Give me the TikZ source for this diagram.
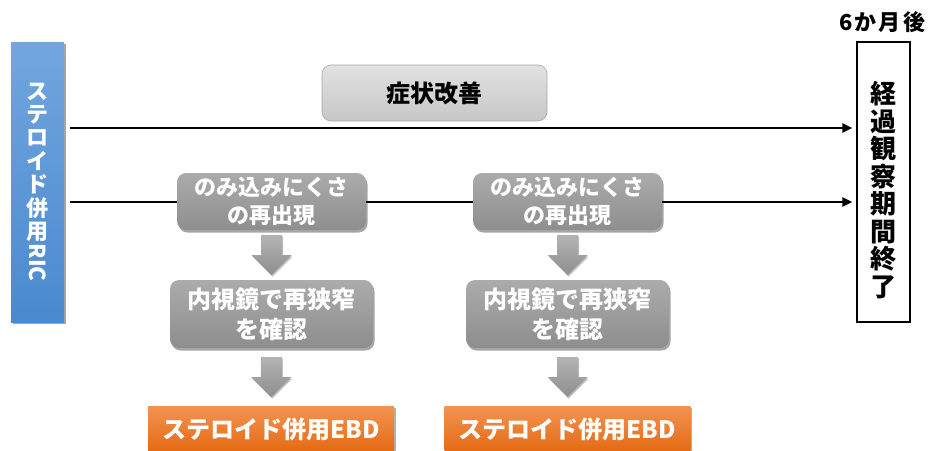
\documentclass[tikz,border=0pt]{standalone}
\usepackage{fontspec}
\setmainfont{Noto Sans CJK JP}
\usetikzlibrary{shadows,arrows.meta,calc}
\definecolor{blueT}{HTML}{72A6DE}
\definecolor{blueB}{HTML}{4A89CF}
\definecolor{grayT}{HTML}{ABABAB}
\definecolor{grayB}{HTML}{8E8E8E}
\definecolor{lgT}{HTML}{E2E2E2}
\definecolor{lgB}{HTML}{C6C6C6}
\definecolor{orT}{HTML}{F39353}
\definecolor{orB}{HTML}{E46A12}
\tikzset{
  sidebox/.style={minimum width=53pt, minimum height=280pt, inner sep=0pt, align=center},
  graybox/.style={rounded corners=9pt, top color=grayT, bottom color=grayB, draw=none,
     text=white, font=\bfseries\fontsize{22}{28}\selectfont, align=center, inner sep=0pt,
     drop shadow={shadow xshift=1.5pt, shadow yshift=-2.5pt, opacity=0.35, fill=black}},
  orbox/.style={top color=orT, bottom color=orB, draw=none, text=white,
     font=\bfseries\fontsize{24}{28}\selectfont, inner sep=0pt,
     drop shadow={shadow xshift=1.5pt, shadow yshift=-2pt, opacity=0.3, fill=black}},
  flow/.style={line width=2.4pt, black},
  flowarrow/.style={flow, -{Triangle[length=10pt,width=9pt]}, shorten >=4pt},
  blockarrow/.style={top color=grayT!90, bottom color=grayB, draw=none,
     drop shadow={shadow xshift=1pt, shadow yshift=-1.5pt, opacity=0.25, fill=black}}
}
\newcommand{\downarrowat}[1]{%
  \path[blockarrow] ($(#1)+(-10.5,-20)$) -- ($(#1)+(10.5,-20)$) -- ($(#1)+(10.5,0)$)
    -- ($(#1)+(20,0)$) -- ($(#1)+(0,20)$) -- ($(#1)+(-20,0)$) -- ($(#1)+(-10.5,0)$) -- cycle;}
\begin{document}
\begin{tikzpicture}[x=1pt,y=-1pt]
\useasboundingbox (0,0) rectangle (933,450);
% left box
\node[sidebox, top color=blueT, bottom color=blueB, text=white,
  font=\bfseries\fontsize{22}{23.4}\selectfont,
  drop shadow={shadow xshift=1.5pt, shadow yshift=-2pt, opacity=0.35, fill=black}]
  (L) at (37.5,182) {ス\\テ\\ロ\\イ\\ド\\併\\用\\[1pt]\rotatebox[origin=c]{-90}{RIC}};
% right box
\node[sidebox, draw=black, line width=1.2pt, fill=white] (R) at (883.5,182) {};
\node[align=center, inner sep=0pt, font=\bfseries\fontsize{26}{27.5}\selectfont]
  (Rt) at (883.5,190) {経\\過\\観\\察\\期\\間\\終\\了};
\node[font=\bfseries\fontsize{22}{24}\selectfont\addfontfeature{LetterSpace=10}, anchor=base, inner sep=0pt] (T) at (882,30) {6か月後};
% improvement box
\node[rounded corners=9pt, top color=lgT, bottom color=lgB, draw=gray!70, line width=0.6pt,
  minimum width=225pt, minimum height=56pt, inner sep=0pt,
  font=\bfseries\fontsize{24}{26}\selectfont] (S) at (434.5,93) {症状改善};
% column boxes
\node[graybox, minimum width=189pt, minimum height=57pt] (A1) at (271.5,201.5) {のみ込みにくさ\\の再出現};
\node[graybox, minimum width=203pt, minimum height=68pt, font=\bfseries\fontsize{24}{30}\selectfont] (B1) at (271.5,314) {内視鏡で再狭窄\\を確認};
\node[orbox, minimum width=246pt, minimum height=46pt] (C1) at (271,429) {ステロイド併用EBD};
\node[graybox, minimum width=189pt, minimum height=57pt] (A2) at (567.5,201.5) {のみ込みにくさ\\の再出現};
\node[graybox, minimum width=203pt, minimum height=68pt, font=\bfseries\fontsize{24}{30}\selectfont] (B2) at (567.5,314) {内視鏡で再狭窄\\を確認};
\node[orbox, minimum width=246pt, minimum height=46pt] (C2) at (567.5,429) {ステロイド併用EBD};
% block arrows
\coordinate (m1) at ($(A1.south)!0.5!(B1.north)$);
\coordinate (m2) at ($(B1.south)!0.5!(C1.north)$);
\coordinate (m3) at ($(A2.south)!0.5!(B2.north)$);
\coordinate (m4) at ($(B2.south)!0.5!(C2.north)$);
\downarrowat{m1}\downarrowat{m2}\downarrowat{m3}\downarrowat{m4}
% flow lines
\coordinate (s1) at (70,128);
\coordinate (s2) at (70,202);
\draw[flowarrow] (s1) -- (s1 -| R.west);
\draw[flow] (s2) -- (s2 -| A1.west);
\draw[flow] (A1.east |- s2) -- (s2 -| A2.west);
\draw[flowarrow] (A2.east |- s2) -- (s2 -| R.west);
\end{tikzpicture}
\end{document}
